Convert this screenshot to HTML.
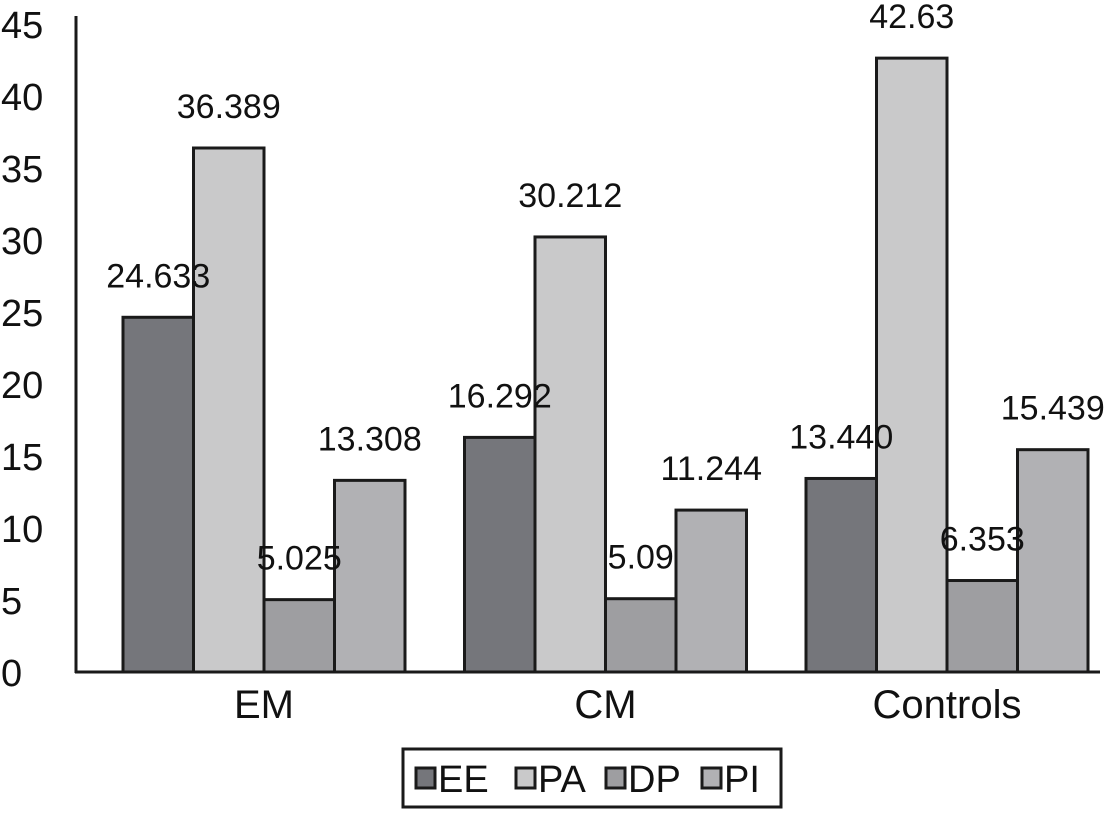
<!DOCTYPE html>
<html><head><meta charset="utf-8"><style>
body{margin:0;background:#fff;}
svg text{font-family:"Liberation Sans",sans-serif;fill:#111;}
</style></head><body>
<svg id="c" width="1105" height="812" xmlns="http://www.w3.org/2000/svg"></svg>
<script>
const categories=["EM","CM","Controls"];
const seriesNames=["EE","PA","DP","PI"];
const EE=[24.633,16.292,13.440];
const PA=[36.389,30.212,42.63];
const DP=[5.025,5.09,6.353];
const PI=[13.308,11.244,15.439];
const labelsEE=["24.633","16.292","13.440"];
const labelsPA=["36.389","30.212","42.63"];
const labelsDP=["5.025","5.09","6.353"];
const labelsPI=["13.308","11.244","15.439"];
const yTicks=[0,5,10,15,20,25,30,35,40,45];
const colors=["#75767b","#c9c9ca","#9e9ea1","#b1b1b4"];
const series=[EE,PA,DP,PI], labels=[labelsEE,labelsPA,labelsDP,labelsPI];
const NS="http://www.w3.org/2000/svg", svg=document.getElementById('c');
function y(v){return 672-v*14.4;}
function gx(i){return 123+i*341.5;}
const bw=70.5;
function mk(t,a,p){const e=document.createElementNS(NS,t);for(const k in a)e.setAttribute(k,a[k]);(p||svg).appendChild(e);return e;}
yTicks.forEach(t=>{
 const e=mk('text',{x:1,y:y(t)+14,'font-size':38});e.textContent=t;
 
 
});
categories.forEach((c,i)=>{
 series.forEach((s,j)=>{
  const r=mk('rect',{x:gx(i)+j*bw,y:y(s[i]),width:bw,height:y(0)-y(s[i]),fill:colors[j],stroke:'#1a1a1a','stroke-width':3});
  
  
 });
 const t=mk('text',{x:gx(i)+2*bw,y:718,'font-size':40,'text-anchor':'middle'});t.textContent=c;
 
 
});
categories.forEach((c,i)=>{
 series.forEach((s,j)=>{
  const l=mk('text',{x:gx(i)+j*bw+bw/2,y:y(s[i])-30,'font-size':34,'text-anchor':'middle'});
  l.textContent=labels[j][i];
  
  
 });
});
const ax=mk('line',{x1:76,y1:16,x2:76,y2:673,stroke:'#1a1a1a','stroke-width':3});


const bx=mk('line',{x1:75,y1:672,x2:1100,y2:672,stroke:'#1a1a1a','stroke-width':3});


const lg=mk('g',{});


mk('rect',{x:403,y:749,width:378,height:58,fill:'#fff',stroke:'#1a1a1a','stroke-width':3},lg);
const lx=[416,516,606,702];
seriesNames.forEach((n,j)=>{
 const sq=mk('rect',{x:lx[j],y:768,width:19,height:20,fill:colors[j],stroke:'#1a1a1a','stroke-width':3},lg);
 
 
 const t=mk('text',{x:lx[j]+22,y:792,'font-size':38},lg);t.textContent=n;
 
 
});
</script>
</body></html>
